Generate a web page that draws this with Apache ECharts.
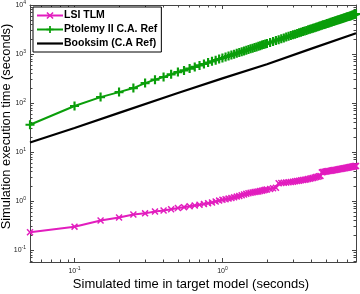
<!DOCTYPE html>
<html><head><meta charset="utf-8">
<script src="https://cdn.jsdelivr.net/npm/echarts@6/dist/echarts.min.js"></script>
<style>html,body{margin:0;padding:0;background:#fff}#c{width:360px;height:294px}</style>
</head><body><div id="c"></div>
<script>
// Simulated time (s)
const simTime = [0.05,0.1,0.15,0.2,0.25,0.3,0.35,0.4,0.45,0.5,0.55,0.6,0.65,0.7,0.75,0.8,0.85,0.9,0.95,1.0,
 1.05,1.1,1.15,1.2,1.25,1.3,1.35,1.4,1.45,1.5,1.55,1.6,1.65,1.7,1.75,1.8,1.85,1.9,1.95,2.0,
 2.1,2.2,2.3,2.4,2.5,2.6,2.7,2.8,2.9,3.0,3.1,3.2,3.3,3.4,3.5,3.6,3.7,3.8,3.9,4.0,
 4.1,4.2,4.3,4.4,4.5,4.6,4.7,4.8,4.9,5.0,5.1,5.2,5.3,5.4,5.5,5.6,5.7,5.8,5.9,6.0,
 6.1,6.2,6.3,6.4,6.5,6.6,6.7,6.8,6.9,7.0,7.1,7.2,7.3,7.4,7.5,7.6,7.7,7.8,7.9,8.0];
// LSI TLM execution time (s)
const lsiTlm = [0.23,0.30,0.40,0.46,0.53,0.56,0.61,0.64,0.68,0.72,0.75,0.78,0.81,0.84,0.87,0.90,0.93,0.98,1.02,1.06,
 1.09,1.12,1.15,1.19,1.23,1.27,1.31,1.36,1.40,1.44,1.47,1.50,1.53,1.55,1.57,1.60,1.63,1.66,1.69,1.72,
 1.77,1.82,1.87,2.30,2.33,2.36,2.39,2.42,2.45,2.48,2.52,2.56,2.60,2.64,2.68,2.72,2.76,2.81,2.86,2.91,
 2.96,3.02,3.08,3.14,3.20,3.26,3.85,3.90,3.95,4.00,4.04,4.08,4.12,4.16,4.20,4.24,4.28,4.32,4.36,4.40,
 4.44,4.48,4.52,4.56,4.60,4.64,4.68,4.72,4.76,4.80,4.84,4.88,4.92,4.96,5.00,5.04,5.08,5.12,5.16,5.20];
// Ptolemy II C.A. Ref execution time (s)
const ptolemy = [36,87,132,167,202,255,300,339,385,428,462,505,545,585,625,668,708,750,790,830,
 870,912,950,992,1035,1075,1115,1155,1195,1236,1275,1316,1356,1396,1438,1478,1518,1560,1600,1640,
 1722,1800,1886,1965,2050,2130,2214,2300,2378,2460,2540,2624,2710,2788,2870,2950,3034,3120,3198,3280,
 3360,3444,3530,3608,3690,3770,3854,3940,4018,4100,4180,4264,4350,4428,4510,4590,4674,4760,4838,4920,
 5000,5084,5170,5248,5330,5410,5494,5580,5658,5740,5820,5904,5990,6068,6150,6230,6314,6400,6478,6560];
// Booksim (C.A Ref)
const booksimTime = [0.05,0.1,0.2,0.5,1,2,4,8];
const booksim = [15.6,31,63,160,318,620,1290,2650];

const xLabelVals = [0.1,1];
const xMajor = [0.1,1];
const xMinor = [0.05,0.06,0.07,0.08,0.09,0.2,0.3,0.4,0.5,0.6,0.7,0.8,0.9,2,3,4,5,6,7,8];
const yLabelVals = [0.1,1,10,100,1000,10000];
const yMinor = [0.06,0.07,0.08,0.09,0.2,0.3,0.4,0.5,0.6,0.7,0.8,0.9,2,3,4,5,6,7,8,9,20,30,40,50,60,70,80,90,
 200,300,400,500,600,700,800,900,2000,3000,4000,5000,6000,7000,8000,9000];

const FONT = '"Liberation Sans", Arial, sans-serif';
const AX = '#444';
const cMag = '#e21dbe', cGrn = '#0a9e0a', cBlk = '#000';
const symX = 'path://M1.5,0L5,3.5L8.5,0L10,1.5L6.5,5L10,8.5L8.5,10L5,6.5L1.5,10L0,8.5L3.5,5L0,1.5Z';
const symP = 'path://M3.8,0H6.2V3.8H10V6.2H6.2V10H3.8V6.2H0V3.8H3.8Z';

function pow10(v){
  const e = Math.round(Math.log10(v));
  return '{b|10}{s|' + e + '}';
}
const rich = {b:{fontSize:7,fontFamily:FONT,color:'#222'}, s:{fontSize:5,fontFamily:FONT,color:'#222',verticalAlign:'top',padding:[0,0,5,0]}};

const X0 = 0.05, X1 = 8, Y0 = 0.057, Y1 = 10000;
const gridBox = {left:30, right:4, top:5, bottom:32, containLabel:false, outerBoundsMode:'none'};

function xAx(grid, pos, ticks, len, main){
  return {type:'log', gridIndex:grid, position:pos, min:X0, max:X1, logBase:10,
    axisLine:{show:main, lineStyle:{color:AX,width:1}},
    axisTick:{show:true, inside:true, length:len, customValues:ticks, lineStyle:{color:AX,width:1}},
    axisLabel:(main && pos==='bottom') ? {show:true, customValues:xLabelVals, formatter:pow10, rich:rich, margin:4} : {show:false},
    splitLine:{show:false},
    name:(main && pos==='bottom') ? 'Simulated time in target model (seconds)' : '',
    nameLocation:'middle', nameGap:16, nameMoveOverlap:false,
    nameTextStyle:{fontSize:13, fontFamily:FONT, color:'#000', padding:[0,4,0,0]}
  };
}
function yAx(grid, pos, ticks, len, main){
  return {type:'log', gridIndex:grid, position:pos, min:Y0, max:Y1, logBase:10,
    axisLine:{show:main, lineStyle:{color:AX,width:1}},
    axisTick:{show:true, inside:true, length:len, customValues:ticks, lineStyle:{color:AX,width:1}},
    axisLabel:(main && pos==='left') ? {show:true, customValues:yLabelVals, formatter:pow10, rich:rich, margin:4} : {show:false},
    splitLine:{show:false},
    name:(main && pos==='left') ? 'Simulation execution time (seconds)' : '',
    nameLocation:'middle', nameGap:17, nameMoveOverlap:false,
    nameTextStyle:{fontSize:12.8, fontFamily:FONT, color:'#000', padding:[0,0,0,14]}
  };
}

const chart = echarts.init(document.getElementById('c'), null, {renderer:'canvas'});
chart.setOption({
  animation:false,
  backgroundColor:'#fff',
  grid:[Object.assign({}, gridBox), Object.assign({}, gridBox)],
  xAxis:[xAx(0,'bottom',xMajor,4,true), xAx(0,'top',xMajor,4,true), xAx(1,'bottom',xMinor,2.5,false), xAx(1,'top',xMinor,2.5,false)],
  yAxis:[yAx(0,'left',yLabelVals,4,true), yAx(0,'right',yLabelVals,4,true), yAx(1,'left',yMinor,2.5,false), yAx(1,'right',yMinor,2.5,false)],
  legend:{
    orient:'vertical', left:33, top:7, itemWidth:26, itemHeight:9, itemGap:3,
    padding:[3,4,3,3], borderColor:'#000', borderWidth:1, backgroundColor:'#fff',
    textStyle:{fontSize:10.5, fontWeight:'bold', fontFamily:FONT, color:'#000', padding:[0,0,0,-4]},
    data:['LSI TLM','Ptolemy II C.A. Ref',{name:'Booksim (C.A Ref)', icon:'path://M0,0H26V2.2H0Z'}]
  },
  series:[
    {name:'LSI TLM', type:'line', xAxisIndex:0, yAxisIndex:0,
     data:simTime.map((t,i)=>[t, lsiTlm[i]]),
     symbol:symX, symbolSize:7, showSymbol:true,
     lineStyle:{color:cMag,width:2}, itemStyle:{color:cMag}},
    {name:'Ptolemy II C.A. Ref', type:'line', xAxisIndex:0, yAxisIndex:0,
     data:simTime.map((t,i)=>[t, ptolemy[i]]),
     symbol:symP, symbolSize:9, showSymbol:true,
     lineStyle:{color:cGrn,width:2}, itemStyle:{color:cGrn}},
    {name:'Booksim (C.A Ref)', type:'line', xAxisIndex:0, yAxisIndex:0,
     data:booksimTime.map((t,i)=>[t, booksim[i]]),
     symbol:'none', showSymbol:false,
     lineStyle:{color:cBlk,width:2.2}, itemStyle:{color:cBlk}}
  ]
});
</script></body></html>
